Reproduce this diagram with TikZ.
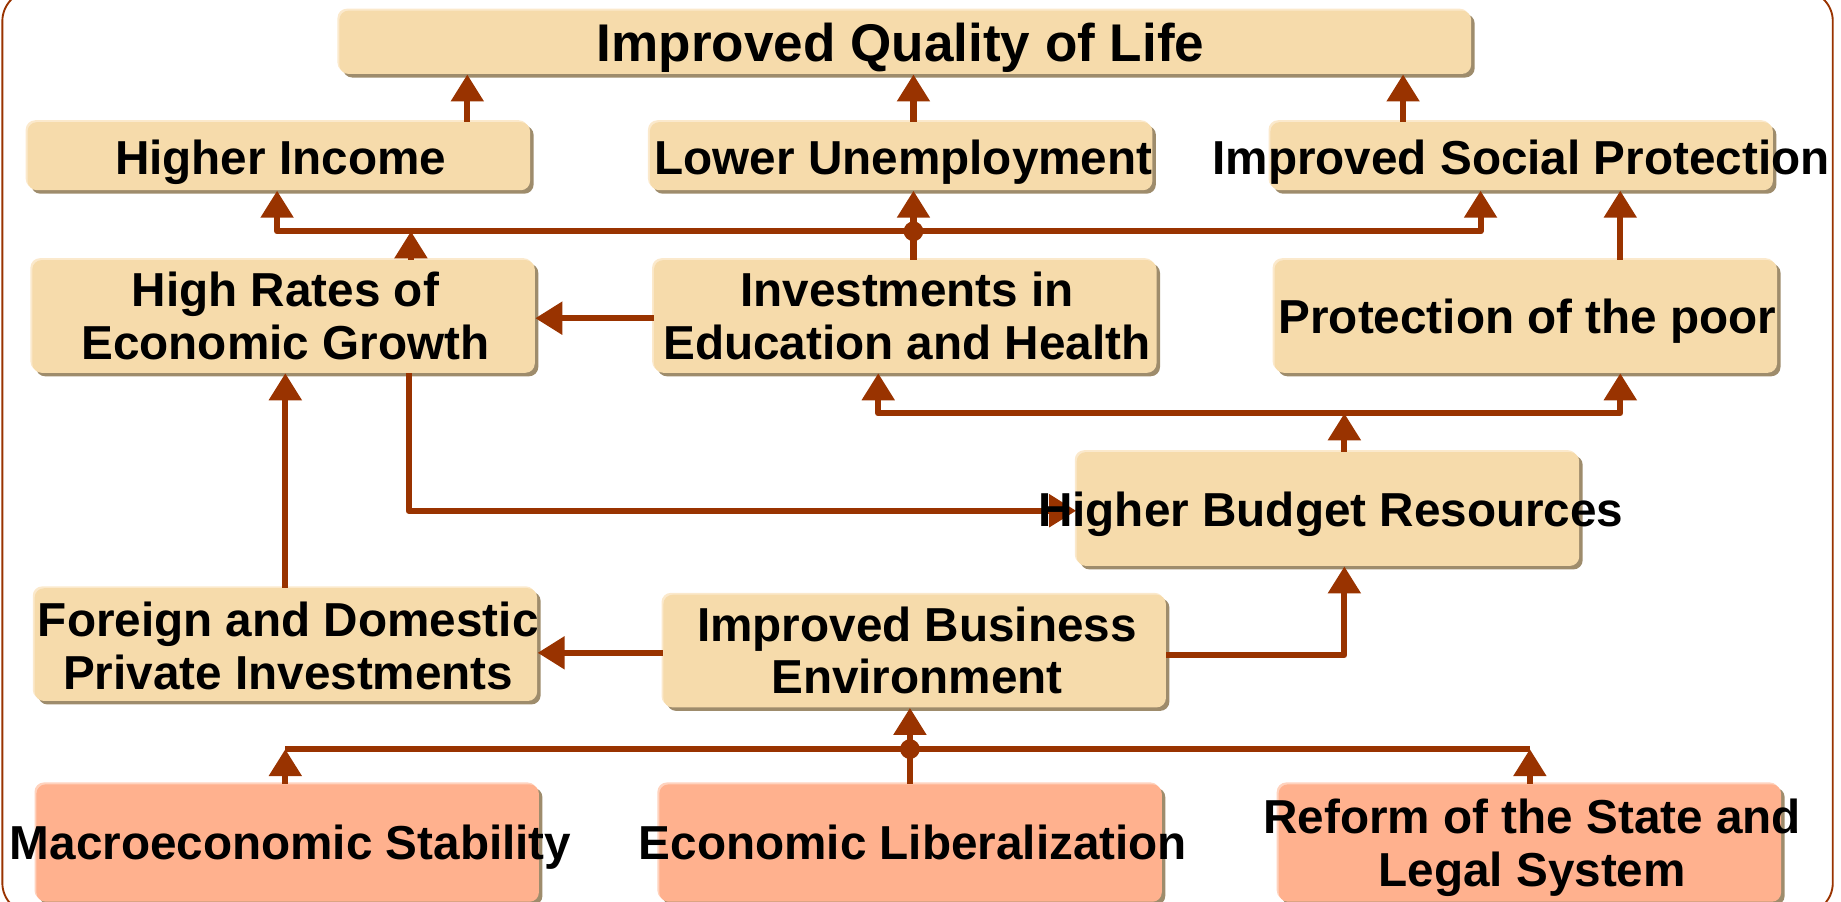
\documentclass[tikz,border=0pt]{standalone}
\usepackage{fontspec}
\setmainfont{Liberation Sans}
\usetikzlibrary{arrows.meta,shadows}
\definecolor{lc}{HTML}{993300}
\definecolor{wheatc}{HTML}{F6DBAB}
\definecolor{salmonc}{HTML}{FFB18E}
\definecolor{shadc}{HTML}{9E8C6C}
\definecolor{hilc}{HTML}{FBE9CC}
\definecolor{shilc}{HTML}{FFD3BE}
\newcommand{\twol}[2]{\begin{tabular}[t]{@{}c@{}}#1\\#2\end{tabular}}
\begin{document}
\begin{tikzpicture}[x=0.5pt,y=-0.5pt,
  box/.style={rectangle, rounded corners=4pt, fill=wheatc, inner sep=0pt,
    minimum width=214pt, minimum height=48pt,
    general shadow={fill=shadc, shadow xshift=1.5pt, shadow yshift=-1.5pt},
    general shadow={fill=hilc, shadow xshift=-0.8pt, shadow yshift=0.8pt}},
  sbox/.style={rectangle, rounded corners=4pt, fill=salmonc, inner sep=0pt,
    minimum width=214pt, minimum height=50pt,
    general shadow={fill=shadc, shadow xshift=1.5pt, shadow yshift=-1.5pt},
    general shadow={fill=shilc, shadow xshift=-0.8pt, shadow yshift=0.8pt}},
  lbl/.style={inner sep=0pt, anchor=base, font=\bfseries\fontsize{20.3pt}{22.5pt}\selectfont},
  conn/.style={draw=lc, line width=2.6pt, line join=round, -{Triangle[width=13.5pt,length=11.5pt]}},
  bus/.style={draw=lc, line width=2.6pt, line join=round}]
\useasboundingbox (0,0) rectangle (1568,768);
% outer frame
\draw[lc, line width=0.8pt, rounded corners=13pt] (2,-8) rectangle (1561,778);
% boxes
\node[box, minimum width=482pt, minimum height=27pt] (title) at (771,36) {};
\node[box, minimum height=29pt] (hi) at (237.5,133) {};
\node[box, minimum height=29pt] (lu) at (767.5,133) {};
\node[box, minimum height=29pt] (isp) at (1296,133) {};
\node[box] (hr) at (241.5,269.5) {};
\node[box] (inv) at (771,269.5) {};
\node[box] (pp) at (1299.5,269.5) {};
\node[box, minimum height=48.5pt] (hb) at (1131,433.5) {};
\node[box] (fd) at (243.5,549) {};
\node[box] (ib) at (779,554.5) {};
\node[sbox] (ms) at (245,718) {};
\node[sbox] (el) at (775.5,718) {};
\node[sbox] (rs) at (1303,718) {};
% named junctions
\coordinate (busL) at (236,197);
\coordinate (busR) at (1261,197);
\coordinate (dotA) at (778,197);
\coordinate (hrTip) at (350,197);
\coordinate (midC) at (1145,352);
\coordinate (midL) at (748,352);
\coordinate (midR) at (1380,352);
\coordinate (grC) at (348,435);
\coordinate (ibC) at (1145,558);
\coordinate (botL) at (243,638);
\coordinate (botR) at (1303,638);
\coordinate (dotB) at (775,638);
% connectors
\draw[conn] (398,0 |- hi.north) -- (398,0 |- title.south);
\draw[conn] (778,0 |- lu.north) -- (778,0 |- title.south);
\draw[conn] (1195,0 |- isp.north) -- (1195,0 |- title.south);
\draw[conn] (dotA) -- (busL) -- (busL |- hi.south);
\draw[conn] (dotA) -- (busR) -- (busR |- isp.south);
\draw[conn] (dotA |- inv.north) -- (dotA |- lu.south);
\fill[lc] (dotA) circle (4.2pt);
\draw[conn] (hrTip |- hr.north) -- (hrTip);
\draw[conn] (1380,0 |- pp.north) -- (1380,0 |- isp.south);
\draw[conn] (inv.west |- 0,271) -- (hr.east |- 0,271);
\draw[conn] (grC |- hr.south) -- (grC) -- (hb.west |- grC);
\draw[conn] (midC) -- (midL) -- (midL |- inv.south);
\draw[conn] (midC) -- (midR) -- (midR |- pp.south);
\draw[conn] (midC |- hb.north) -- (midC);
\draw[conn] (243,0 |- fd.north) -- (243,0 |- hr.south);
\draw[conn] (ib.west |- 0,556) -- (fd.east |- 0,556);
\draw[conn] (ib.east |- ibC) -- (ibC) -- (ibC |- hb.south);
\draw[bus] (botL) -- (botR);
\draw[conn] (botL |- ms.north) -- (botL);
\draw[conn] (botR |- rs.north) -- (botR);
\draw[conn] (dotB |- el.north) -- (dotB |- ib.south);
\fill[lc] (dotB) circle (4.2pt);
% texts
\node[lbl, font=\bfseries\fontsize{22.6pt}{25pt}\selectfont] (title-t) at (767,52) {Improved Quality of Life};
\node[lbl] (hi-t) at (239,149) {Higher Income};
\node[lbl] (lu-t) at (769.5,149) {Lower Unemployment};
\node[lbl] (isp-t) at (1295.5,149) {Improved Social Protection};
\node[lbl] (hr-t) at (243,261) {\twol{High Rates of}{Economic Growth}};
\node[lbl] (inv-t) at (772.5,261) {\twol{Investments in}{Education and Health}};
\node[lbl] (pp-t) at (1301,284) {Protection of the poor};
\node[lbl] (hb-t) at (1133.5,448) {Higher Budget Resources};
\node[lbl] (fd-t) at (245.5,542) {\twol{Foreign and Domestic}{Private Investments}};
\node[lbl] (ib-t) at (781,546) {\twol{Improved Business}{Environment}};
\node[lbl] (ms-t) at (247.5,732) {Macroeconomic Stability};
\node[lbl] (el-t) at (777.5,732) {Economic Liberalization};
\node[lbl] (rs-t) at (1305,710) {\twol{Reform of the State and}{Legal System}};
\end{tikzpicture}
\end{document}
